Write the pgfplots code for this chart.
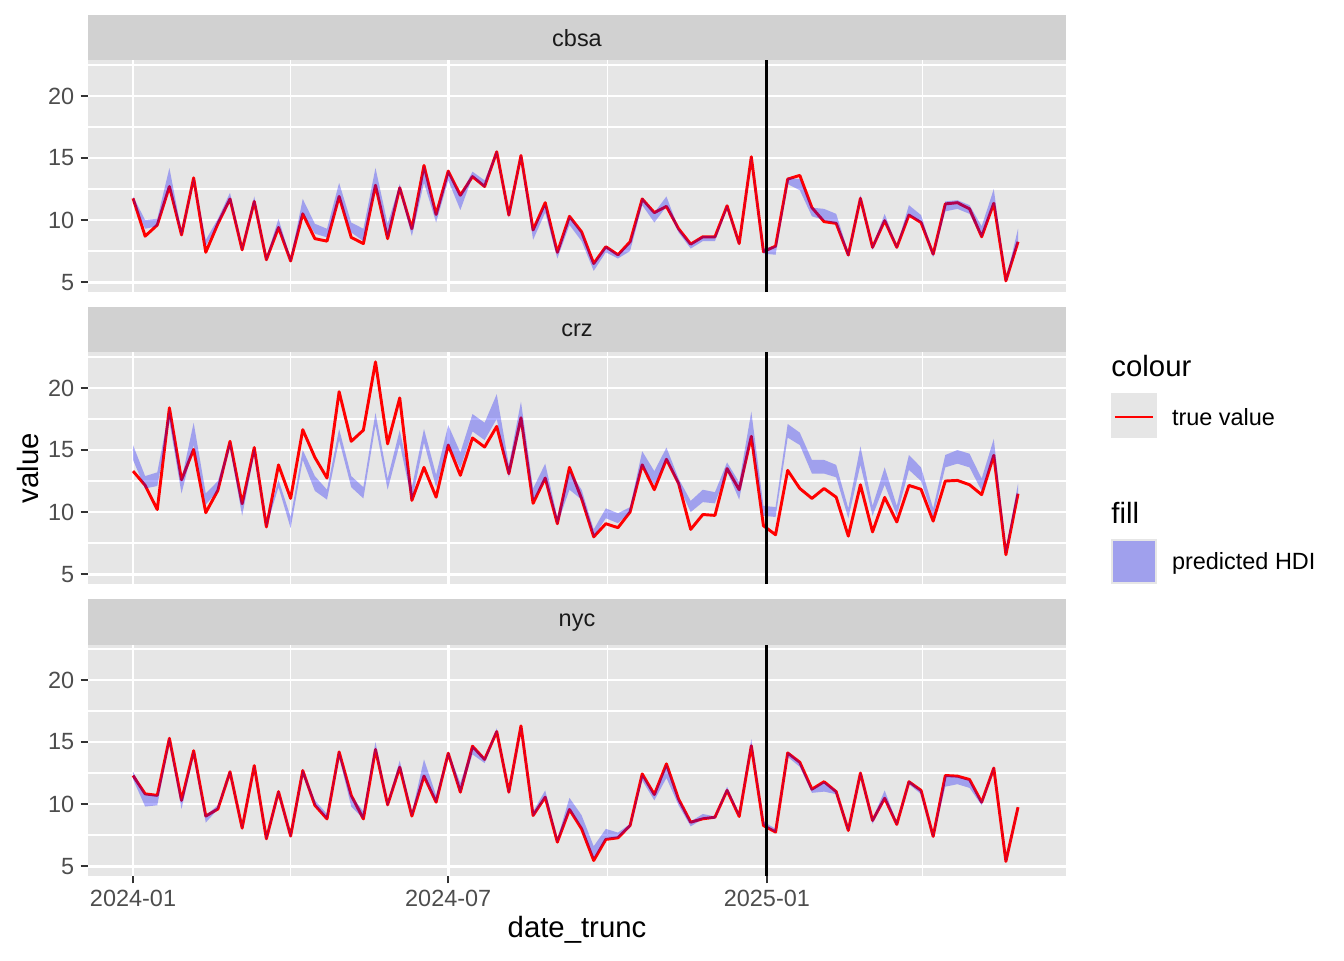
\documentclass[border=0pt]{standalone}
\usepackage{pgfplots}
\pgfplotsset{compat=1.18}
\usepackage{pgfplotstable}
\usepgfplotslibrary{fillbetween}
\usepackage{fontspec}
\setmainfont{Liberation Sans}

\definecolor{panelbg}{HTML}{E6E6E6}
\definecolor{stripbg}{HTML}{D1D1D1}
\definecolor{grey20}{HTML}{333333}
\definecolor{grey30}{HTML}{4D4D4D}
\definecolor{grey10}{HTML}{1A1A1A}

% i = week index (x = 7*i days after 2024-01-01), v = true value, lo/hi = predicted HDI
\pgfplotstableread{
i v lo hi
0 11.75 11.5 11.9
1 8.7 9.3 10.0
2 9.6 9.5 10.1
3 12.7 12.6 14.2
4 8.8 8.7 9.1
5 13.4 13.1 13.4
6 7.4 7.9 8.4
7 9.7 9.7 10.1
8 11.7 11.5 12.2
9 7.6 7.5 7.8
10 11.5 11.3 11.9
11 6.8 6.7 7.0
12 9.4 9.4 10.1
13 6.7 6.6 6.9
14 10.5 10.6 11.7
15 8.5 8.9 9.7
16 8.3 8.6 9.3
17 11.9 11.8 13.0
18 8.6 9.0 9.8
19 8.1 8.3 9.3
20 12.8 12.7 14.2
21 8.5 8.5 9.7
22 12.6 12.4 12.9
23 9.3 8.7 9.4
24 14.4 13.0 14.4
25 10.45 9.8 10.5
26 13.95 13.2 14.0
27 12.0 10.8 12.0
28 13.5 13.5 13.9
29 12.7 12.6 13.2
30 15.5 15.3 15.6
31 10.4 10.2 10.6
32 15.2 15.0 15.3
33 9.2 8.4 9.2
34 11.4 10.6 11.3
35 7.4 6.9 7.4
36 10.3 9.6 10.3
37 9.05 8.3 9.0
38 6.5 5.9 6.5
39 7.85 7.4 7.9
40 7.2 6.9 7.2
41 8.25 7.5 8.2
42 11.7 11.2 11.8
43 10.6 9.8 10.6
44 11.1 11.1 11.9
45 9.3 9.0 9.3
46 8.06 7.7 8.1
47 8.65 8.3 8.7
48 8.65 8.3 8.7
49 11.15 10.9 11.2
50 8.1 8.0 8.2
51 15.1 14.9 15.1
52 7.45 7.3 7.7
53 7.9 7.2 7.9
54 13.3 12.9 13.4
55 13.6 12.4 13.3
56 11.0 10.3 11.0
57 9.87 10.0 10.9
58 9.73 9.7 10.5
59 7.18 7.0 7.4
60 11.75 11.6 12.0
61 7.8 7.6 7.9
62 9.95 9.9 10.5
63 7.8 7.7 7.9
64 10.4 10.4 11.2
65 9.8 9.8 10.4
66 7.25 7.0 7.3
67 11.3 10.7 11.5
68 11.4 10.9 11.6
69 10.9 10.5 11.2
70 8.65 8.6 9.5
71 11.35 11.3 12.5
72 5.1 5.0 5.2
73 8.25 8.2 9.3
}\cbsa

\pgfplotstableread{
i v lo hi
0 13.3 14.2 15.4
1 12.15 11.9 12.9
2 10.2 12.1 13.2
3 18.4 17.3 18.3
4 12.6 11.5 12.6
5 15.05 15.4 17.2
6 9.95 10.6 11.5
7 11.75 11.7 12.5
8 15.7 15.2 15.7
9 10.67 9.7 10.7
10 15.2 14.7 15.2
11 8.8 8.8 9.1
12 13.8 12.0 12.6
13 11.1 8.7 9.6
14 16.64 14.2 15.0
15 14.4 11.7 12.9
16 12.74 11.0 11.8
17 19.7 15.8 16.7
18 15.7 12.0 12.9
19 16.6 11.1 12.0
20 22.1 17.0 18.0
21 15.5 11.8 12.7
22 19.2 15.5 16.6
23 10.94 10.9 12.0
24 13.6 15.6 16.7
25 11.2 12.0 13.0
26 15.4 15.5 17.0
27 12.96 13.5 14.8
28 15.97 16.5 17.9
29 15.24 15.8 17.2
30 16.9 17.5 19.5
31 13.1 12.8 13.8
32 17.6 17.0 18.9
33 10.7 10.9 11.9
34 12.74 12.6 13.9
35 9.06 9.0 9.6
36 13.6 11.8 13.3
37 11.08 11.0 11.8
38 8.0 8.0 8.6
39 9.06 9.5 10.3
40 8.74 9.1 9.9
41 10.0 10.0 10.4
42 13.8 13.7 14.9
43 11.8 12.2 13.3
44 14.25 14.2 15.2
45 12.3 12.1 12.7
46 8.6 10.0 10.9
47 9.8 10.8 11.8
48 9.73 10.7 11.6
49 13.5 13.3 14.0
50 11.8 11.0 12.4
51 16.1 16.1 18.1
52 8.9 9.7 10.5
53 8.17 9.6 10.4
54 13.36 16.0 17.1
55 11.9 15.4 16.4
56 11.1 13.1 14.2
57 11.9 13.1 14.2
58 11.2 12.8 13.8
59 8.06 9.5 10.3
60 12.2 13.8 15.3
61 8.4 9.7 10.5
62 11.18 12.2 13.6
63 9.2 9.7 10.5
64 12.15 13.4 14.6
65 11.83 12.5 13.6
66 9.27 9.6 10.3
67 12.5 13.6 14.6
68 12.55 13.9 15.0
69 12.2 13.6 14.7
70 11.4 11.7 12.7
71 14.57 14.5 15.9
72 6.56 6.6 7.0
73 11.48 11.5 12.3
}\crz

\pgfplotstableread{
i v lo hi
0 12.3 12.0 12.6
1 10.82 9.8 10.8
2 10.7 9.9 10.7
3 15.3 15.0 15.4
4 10.3 9.6 10.3
5 14.3 14.0 14.3
6 9.03 8.5 9.1
7 9.6 9.6 9.9
8 12.6 12.4 12.7
9 8.06 8.0 8.2
10 13.1 12.9 13.1
11 7.2 7.1 7.4
12 11.0 10.8 11.1
13 7.42 7.3 7.6
14 12.7 12.3 12.8
15 9.9 9.9 10.3
16 8.8 8.8 9.2
17 14.2 13.8 14.3
18 10.7 9.8 10.7
19 8.8 8.8 9.4
20 14.4 14.3 15.0
21 9.94 9.8 10.1
22 12.97 12.9 13.5
23 9.03 9.0 9.3
24 12.25 12.2 13.6
25 10.15 10.1 10.7
26 14.1 13.9 14.2
27 10.96 10.9 11.7
28 14.66 14.0 14.7
29 13.6 13.3 13.7
30 15.84 15.8 16.1
31 10.96 10.8 11.1
32 16.3 16.1 16.3
33 9.08 9.0 9.4
34 10.55 10.5 11.1
35 6.93 6.9 7.2
36 9.56 9.5 10.5
37 8.0 8.1 9.1
38 5.45 5.6 6.6
39 7.15 7.2 8.0
40 7.28 7.3 7.7
41 8.27 8.1 8.4
42 12.43 11.9 12.4
43 10.77 10.3 10.8
44 13.24 12.1 13.2
45 10.4 9.9 10.4
46 8.54 8.2 8.6
47 8.81 8.8 9.2
48 8.94 8.8 9.0
49 11.1 11.0 11.4
50 9.0 9.0 9.2
51 14.7 14.7 15.25
52 8.27 8.3 8.6
53 7.74 7.7 8.0
54 14.12 13.8 14.2
55 13.37 13.0 13.4
56 11.2 10.9 11.2
57 11.8 11.0 11.8
58 11.0 10.8 11.1
59 7.87 7.8 8.1
60 12.5 12.3 12.6
61 8.68 8.4 8.8
62 10.47 10.4 11.1
63 8.36 8.3 8.5
64 11.8 11.6 11.9
65 11.1 10.8 11.1
66 7.39 7.3 7.5
67 12.3 11.4 12.3
68 12.25 11.6 12.2
69 11.98 11.3 11.9
70 10.15 9.9 10.2
71 12.9 12.8 13.0
72 5.38 5.3 5.5
73 9.75 9.72 9.78
}\nyc

\pgfplotsset{
  facet/.style={
    anchor=south west,
    scale only axis,
    width=366.75pt, height=87pt,
    xmin=-26, xmax=538.7,
    ymin=4.2, ymax=22.9,
    axis background/.style={fill=panelbg},
    axis line style={draw=none},
    xtick={0,182,366},
    minor xtick={91,274,456},
    ytick={5,10,15,20},
    minor ytick={7.5,12.5,17.5,22.5},
    grid=both,
    major grid style={white, line width=1.07pt},
    minor grid style={white, line width=0.53pt},
    tick align=outside,
    xtick pos=bottom, ytick pos=left,
    major tick length=2.75pt, minor tick length=0pt,
    tick style={grey20, line width=0.8pt},
    tick label style={font=\fontsize{8.8}{10}\selectfont, text=grey30},
    yticklabel style={inner sep=0pt, xshift=-2.2pt},
    xticklabel style={inner sep=0pt, yshift=-2.2pt},
    /pgf/number format/assume math mode=true,
  },
  hdi/.style={fill=blue, fill opacity=0.3, draw=none},
  % the line sits under the ribbon (ribbon is on the pre main layer)
  truev/.style={red, line width=1.1pt, line join=round, mark=none, on layer=axis tick labels},
  cut/.style={black, line width=1.07pt, mark=none},
}

\begin{document}
\begin{tikzpicture}
\path (0,0) rectangle (504pt,360pt);

% cbsa
\begin{axis}[facet, at={(33pt,250.5pt)}, xticklabels={}, xmajorticks=false]
\addplot[name path=lo1, draw=none] table[x expr=7*\thisrow{i}, y=lo] {\cbsa};
\addplot[name path=hi1, draw=none] table[x expr=7*\thisrow{i}, y=hi] {\cbsa};
\addplot[truev] table[x expr=7*\thisrow{i}, y=v] {\cbsa};
\addplot[hdi] fill between[of=hi1 and lo1];
\addplot[cut] coordinates {(366,4.2) (366,22.9)};
\end{axis}

% crz
\begin{axis}[facet, at={(33pt,141pt)}, xticklabels={}, xmajorticks=false]
\addplot[name path=lo2, draw=none] table[x expr=7*\thisrow{i}, y=lo] {\crz};
\addplot[name path=hi2, draw=none] table[x expr=7*\thisrow{i}, y=hi] {\crz};
\addplot[truev] table[x expr=7*\thisrow{i}, y=v] {\crz};
\addplot[hdi] fill between[of=hi2 and lo2];
\addplot[cut] coordinates {(366,4.2) (366,22.9)};
\end{axis}

% nyc
\begin{axis}[facet, at={(33pt,31.5pt)}, xticklabels={2024-01,2024-07,2025-01}]
\addplot[name path=lo3, draw=none] table[x expr=7*\thisrow{i}, y=lo] {\nyc};
\addplot[name path=hi3, draw=none] table[x expr=7*\thisrow{i}, y=hi] {\nyc};
\addplot[truev] table[x expr=7*\thisrow{i}, y=v] {\nyc};
\addplot[hdi] fill between[of=hi3 and lo3];
\addplot[cut] coordinates {(366,4.2) (366,22.9)};
\end{axis}

% facet strips
\fill[stripbg] (33pt,337.5pt) rectangle (399.75pt,354.375pt);
\fill[stripbg] (33pt,228pt) rectangle (399.75pt,244.875pt);
\fill[stripbg] (33pt,118.125pt) rectangle (399.75pt,135.375pt);
\begin{scope}[every node/.style={font=\fontsize{8.8}{10}\selectfont, text=grey10}]
\node at (216.375pt,345.6pt) {cbsa};
\node at (216.375pt,236.1pt) {crz};
\node at (216.375pt,126.4pt) {nyc};
\end{scope}

% axis titles
\node[font=\fontsize{11}{13}\selectfont, rotate=90] at (10.5pt,184.5pt) {value};
\node[font=\fontsize{11}{13}\selectfont] at (216.375pt,11.3pt) {date\_trunc};

% legend
\node[font=\fontsize{11}{13}\selectfont, anchor=west, inner sep=0pt] at (416.6pt,222.6pt) {colour};
\fill[panelbg] (416.6pt,195.6pt) rectangle (433.9pt,212.5pt);
\draw[red, line width=1.07pt] (418.1pt,203.6pt) -- (432.4pt,203.6pt);
\node[font=\fontsize{8.8}{10}\selectfont, anchor=west, inner sep=0pt] at (439.3pt,203.5pt) {true value};

\node[font=\fontsize{11}{13}\selectfont, anchor=west, inner sep=0pt] at (416.6pt,167.6pt) {fill};
\fill[panelbg] (416.6pt,140.9pt) rectangle (433.9pt,157.75pt);
\fill[blue, fill opacity=0.3] (417.4pt,141.7pt) rectangle (433.1pt,156.95pt);
\node[font=\fontsize{8.8}{10}\selectfont, anchor=west, inner sep=0pt] at (439.3pt,148.75pt) {predicted HDI};

\pgfresetboundingbox
\path[use as bounding box] (0,0) rectangle (504pt,360pt);
\end{tikzpicture}
\end{document}
